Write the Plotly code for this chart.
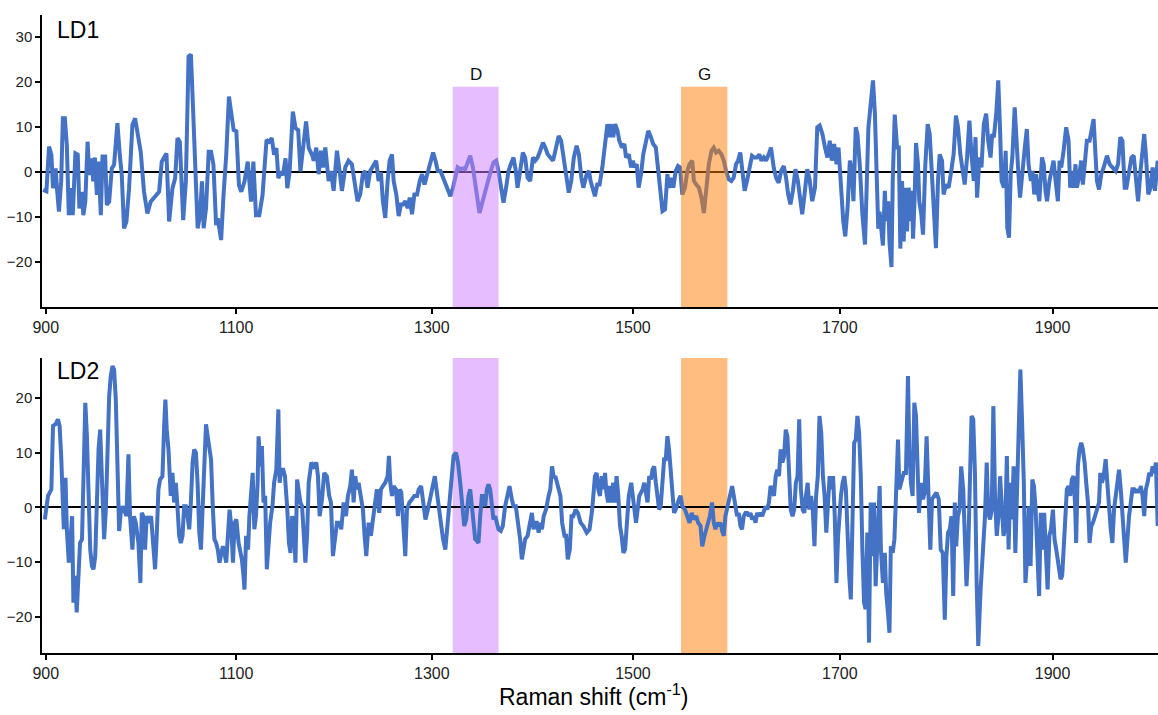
import plotly.graph_objects as go

# ---------------- data (Raman shift in cm-1, LD loadings) ----------------
ld1_x = [
    897.2, 900.7, 903.5, 906.0, 907.7, 910.5, 911.9, 914.0, 916.4, 918.2,
    920.3, 922.4, 924.5, 926.6, 928.7, 931.5, 934.0, 935.7, 938.5, 939.9,
    942.0, 944.4, 946.2, 948.6, 950.4, 952.1, 954.2, 956.0, 958.4, 960.2,
    963.0, 964.7, 967.2, 970.0, 972.4, 975.9, 978.4, 980.5, 982.9, 985.4,
    988.2, 991.7, 994.5, 996.9, 1000.4, 1003.9, 1007.4, 1010.9, 1015.5, 1019.7,
    1022.5, 1024.9, 1027.4, 1030.2, 1033.7, 1036.5, 1038.9, 1041.4, 1044.9, 1047.7,
    1050.5, 1053.0, 1055.4, 1057.5, 1060.0, 1062.4, 1064.5, 1066.2, 1068.7, 1071.5,
    1073.9, 1076.4, 1079.2, 1080.9, 1084.4, 1086.9, 1089.7, 1092.5, 1094.6, 1097.4,
    1100.2, 1102.9, 1105.3, 1108.7, 1112.0, 1113.7, 1115.4, 1117.8, 1120.5, 1123.9,
    1127.3, 1131.4, 1134.1, 1136.8, 1139.2, 1141.6, 1143.6, 1146.0, 1148.3, 1151.0,
    1152.8, 1155.2, 1158.5, 1161.2, 1164.0, 1166.3, 1169.7, 1172.1, 1174.8, 1178.2,
    1179.9, 1182.6, 1185.0, 1187.4, 1189.4, 1191.8, 1195.2, 1197.6, 1200.3, 1203.7,
    1206.4, 1208.8, 1212.2, 1215.5, 1218.9, 1222.3, 1224.7, 1227.4, 1230.1, 1232.5,
    1234.9, 1237.6, 1241.0, 1243.7, 1246.1, 1248.5, 1250.5, 1252.9, 1255.3, 1257.3,
    1259.7, 1261.4, 1264.1, 1266.5, 1268.8, 1270.9, 1273.2, 1275.6, 1277.7, 1280.0,
    1282.4, 1285.1, 1287.8, 1290.2, 1292.6, 1295.3, 1298.6, 1301.3, 1303.7, 1306.0,
    1308.7, 1311.3, 1313.6, 1316.0, 1318.7, 1321.3, 1323.6, 1326.0, 1328.6, 1331.3,
    1333.6, 1335.9, 1338.6, 1341.3, 1343.6, 1345.9, 1347.9, 1350.2, 1353.6, 1356.9,
    1359.2, 1361.9, 1364.6, 1366.9, 1369.2, 1371.9, 1374.5, 1376.9, 1379.2, 1381.9,
    1384.2, 1385.9, 1388.5, 1391.2, 1393.5, 1395.9, 1398.5, 1401.2, 1403.5, 1405.9,
    1408.5, 1411.2, 1413.5, 1415.9, 1418.5, 1421.2, 1423.5, 1426.8, 1429.2, 1431.8,
    1434.5, 1436.8, 1439.2, 1441.8, 1444.5, 1446.8, 1449.2, 1451.2, 1454.5, 1456.8,
    1458.3, 1460.6, 1462.6, 1464.9, 1467.2, 1469.9, 1472.6, 1474.9, 1476.6, 1478.2,
    1480.6, 1482.6, 1484.9, 1486.6, 1489.2, 1491.6, 1493.2, 1495.9, 1498.2, 1499.9,
    1501.4, 1503.7, 1505.6, 1507.9, 1510.1, 1512.7, 1515.0, 1517.6, 1519.8, 1522.4,
    1525.0, 1527.2, 1528.9, 1531.4, 1533.7, 1535.3, 1537.6, 1539.5, 1541.8, 1544.0,
    1546.0, 1548.2, 1550.8, 1553.1, 1555.3, 1557.9, 1559.5, 1561.8, 1564.4, 1566.9,
    1569.2, 1571.4, 1574.0, 1576.6, 1578.8, 1581.1, 1583.6, 1586.2, 1588.5, 1590.7,
    1593.3, 1595.8, 1598.1, 1600.4, 1602.3, 1604.5, 1606.8, 1608.7, 1611.0, 1613.2,
    1615.8, 1618.1, 1620.6, 1622.9, 1624.8, 1627.1, 1629.3, 1631.9, 1634.1, 1636.7,
    1639.0, 1641.5, 1643.8, 1646.4, 1648.6, 1650.6, 1652.8, 1655.1, 1657.6, 1659.9,
    1661.8, 1664.1, 1666.3, 1668.9, 1671.1, 1673.7, 1676.3, 1678.5, 1680.8, 1683.4,
    1685.9, 1688.2, 1690.4, 1692.4, 1694.6, 1696.9, 1698.8, 1701.1, 1703.3, 1705.2,
    1707.4, 1709.6, 1711.4, 1713.0, 1715.2, 1716.8, 1719.0, 1721.5, 1724.0,
    1727.2, 1729.4, 1731.6, 1733.4, 1734.7, 1736.6, 1737.8, 1739.7, 1741.0, 1742.8,
    1744.1, 1746.0, 1747.2, 1749.1, 1750.3, 1752.2, 1754.4, 1756.0, 1757.5, 1759.1,
    1760.7, 1762.2, 1763.8, 1765.4, 1766.9, 1768.5, 1769.5, 1771.0, 1772.3, 1774.2,
    1775.4, 1777.3, 1778.9, 1781.1, 1783.3, 1785.2, 1787.4, 1788.9, 1791.1, 1793.0,
    1794.6, 1796.8, 1798.3, 1800.5, 1803.0, 1805.5, 1807.7, 1809.9, 1811.8, 1814.0,
    1816.2, 1818.1, 1820.3, 1822.5, 1824.4, 1826.6, 1828.2, 1829.7, 1831.9, 1833.8,
    1836.0, 1838.2, 1840.1, 1842.3, 1843.8, 1845.4, 1847.6, 1849.5, 1851.1, 1852.6,
    1854.8, 1856.4, 1857.9, 1859.5, 1861.1, 1862.6, 1864.8, 1866.4, 1868.3, 1869.8,
    1872.0, 1874.2, 1876.1, 1877.7, 1879.9, 1881.4, 1883.0, 1884.6, 1886.2, 1887.7,
    1890.2, 1891.8, 1893.4, 1894.9, 1897.1, 1898.7, 1900.9, 1902.8, 1904.9, 1906.5,
    1908.0, 1910.2, 1912.6, 1914.8, 1916.3, 1918.1, 1919.7, 1921.2, 1922.5, 1924.3,
    1926.5, 1928.0, 1929.6, 1931.7, 1934.2, 1936.3, 1937.9, 1939.8, 1941.0, 1942.9,
    1945.0, 1947.2, 1950.2, 1952.7, 1955.1, 1958.2, 1960.4, 1962.5, 1964.4, 1966.5,
    1968.1, 1970.5, 1972.7, 1974.8, 1976.7, 1978.8, 1981.0, 1982.8, 1984.4, 1985.9,
    1988.1, 1990.2, 1992.1, 1994.2, 1996.7,
]
ld1_y = [
    -4.0, -4.3, 5.6, 3.8, -3.6, 0.8, -3.6, -8.8, -2.1, 11.9,
    11.9, 6.0, -9.6, -3.6, -9.6, 4.1, 3.8, -8.1, -4.4, -9.6,
    -6.6, 6.7, -0.7, 3.0, -2.1, 3.2, -5.1, 2.3, -9.6, 3.4,
    3.4, -7.3, -6.6, 0.8, 1.6, 10.8, 3.8, -0.7, -12.5, -11.0,
    -3.6, 10.4, 11.9, 9.0, 4.5, -4.4, -9.2, -6.6, -5.5, -4.4,
    2.3, 3.0, 4.1, -11.0, -3.6, -1.4, 7.5, 6.7, -10.7, -2.1,
    25.6, 26.0, 14.1, -1.4, -12.5, -9.6, -2.1, -12.5, -8.1, 4.5,
    4.5, 1.6, -11.8, -10.3, -15.1, -5.1, 3.8, 16.7, 12.7, 9.3,
    9.0, -2.9, -4.4, -2.1, 2.3, -3.6, -6.6, 2.3, -9.6, -9.6,
    -5.1, 7.1, 6.7, 7.5, 3.8, 5.3, -1.4, 0.1, -0.7, 3.0,
    -3.6, 0.1, 13.4, 9.7, 9.3, 0.1, 6.0, 11.2, 5.3, 3.8,
    2.5, 5.4, -0.5, 4.7, 1.0, 5.4, -2.0, 0.2, -4.2, 4.7,
    0.2, -4.2, 1.0, 2.5, 1.7, -2.8, -6.5, -5.0, -0.5, 0.2,
    -3.5, 0.2, 1.7, 2.5, -2.0, -0.1, -6.5, -10.2, -2.0, 2.5,
    3.9, -2.0, -5.0, -9.8, -7.2, -7.2, -6.5, -8.0, -5.7, -9.4,
    -5.0, -5.0, -2.0, -0.5, -2.8, -0.5, 1.7, 4.3, 2.5, 0.2,
    0.2, -1.3, -2.8, -4.2, -5.4, -3.5, -1.3, 1.0, 0.6, 0.8,
    0.6, 2.1, 3.6, 1.0, -2.8, -5.7, -9.1, -7.2, -4.2, -2.0,
    0.2, 2.1, 2.5, 0.2, -2.8, -6.8, -3.5, 0.2, 1.7, 3.2,
    0.2, -3.5, 0.2, 4.3, 3.2, -1.3, -2.0, 3.2, 2.5, 3.2,
    4.7, 6.5, 5.4, 3.9, 3.2, 2.5, 4.7, 8.0, 6.9, 2.5,
    -2.0, -4.6, -2.0, 3.2, 5.8, 3.9, -1.3, -3.5, -0.5, 0.2,
    -2.0, -4.2, -5.4, -2.8, -2.8, 1.0, 5.4, 10.6, 7.7, 10.6,
    7.7, 10.6, 9.1, 6.9, 5.4, 6.2, 3.2, 3.9, 1.0, 2.5,
    1.0, 1.7, -3.5, -0.5, 3.9, 6.9, 9.1, 7.7, 6.2, 5.4,
    -0.5, -6.5, -8.7, -8.3, -0.5, -3.5, -1.3, -3.5, 0.2, 1.3,
    1.0, -5.0, -3.5, 0.2, 1.7, 2.5, -2.0, -2.8, -3.5, -5.7,
    -9.1, -4.2, 1.7, 4.7, 5.4, 4.3, 4.7, 3.9, 2.5, 0.2,
    -1.6, -2.0, -1.3, 1.7, 2.5, 4.3, -0.5, -4.2, -2.0, 0.2,
    3.6, 3.2, 3.2, 3.9, 2.5, 3.2, 2.5, 3.9, 5.4, 1.0,
    -1.3, -2.4, 0.2, 1.3, -1.3, -5.0, -7.2, -4.2, 0.6, -2.0,
    -5.7, -9.4, -5.0, 0.6, -1.6, -6.5, -3.5, 9.9, 10.3, 8.4,
    5.4, 3.2, 6.9, 2.5, 6.2, 1.7, 5.4, -3.5, -10.9, -14.3,
    -8.0, 2.5, 0.2, -6.5, 9.9, 8.4, 1.7, -9.4, -16.1,
    9.7, 15.8, 20.3, 12.9, 4.7, -12.6, -8.8, -13.3, -16.3, -4.2,
    -10.9, -6.5, -15.5, -21.1, -2.0, 12.7, 5.4, 5.4, -17.0, -2.0,
    -15.4, -3.5, -13.2, -3.5, -10.9, -4.2, -14.8, -5.7, 6.4, 1.7,
    -6.5, -9.4, -13.9, 1.7, 10.6, 8.4, -2.0, -9.4, -16.9, -2.0,
    3.9, 2.5, -5.0, -2.8, -3.5, 0.2, 3.9, 12.5, 9.9, 3.9,
    -0.5, -2.8, 3.2, 11.4, 3.9, -2.0, 7.7, -5.7, 3.2, 1.0,
    10.6, 12.9, 6.9, 3.2, 8.4, 7.7, 12.9, 20.3, 9.9, -2.0,
    -3.5, 4.7, -12.4, -14.6, -0.5, 3.2, 14.3, 5.4, -0.5, -5.7,
    1.0, 5.4, 9.5, 1.7, -2.0, 0.2, -5.0, -0.5, -4.2, -6.5,
    3.2, 1.7, -4.2, -6.5, -2.0, 0.2, 2.5, -2.0, -6.5, 2.5,
    1.0, 4.7, 9.9, 6.9, -3.5, 0.2, -3.5, 1.7, -3.5, -1.3,
    2.5, -2.8, 2.5, 6.9, 6.9, 9.1, 11.7, 3.2, -2.0, -3.9,
    -0.5, 1.0, 3.6, 1.7, 1.0, 0.2, 1.7, 7.7, 6.9, -3.5,
    -3.5, -0.5, 3.2, 3.6, -2.0, -6.5, 0.2, 5.4, 8.4, 3.9,
    -5.0, -3.5, 1.0, -4.2, 2.5,
]

ld2_x = [
    899.0, 900.7, 902.4, 904.2, 906.0, 907.7, 910.5, 912.9, 914.7, 916.4,
    918.2, 919.2, 921.0, 922.4, 924.5, 925.9, 928.0, 929.4, 931.1, 932.9,
    935.0, 936.4, 938.5, 940.2, 942.0, 943.7, 945.5, 947.2, 949.0, 950.7,
    952.5, 954.2, 956.0, 957.7, 959.5, 961.9, 963.7, 965.4, 967.2, 968.9,
    970.7, 972.4, 974.2, 975.9, 977.7, 979.4, 981.2, 982.9, 985.4, 987.5,
    989.2, 991.7, 993.4, 995.2, 998.0, 1000.1, 1001.5, 1003.2, 1005.0, 1006.7,
    1009.2, 1011.3, 1013.4, 1015.5, 1017.2, 1019.0, 1020.7, 1023.2, 1025.0, 1026.3,
    1027.7, 1029.5, 1031.9, 1033.7, 1035.4, 1037.2, 1038.9, 1040.7, 1042.4, 1044.2,
    1045.9, 1047.7, 1049.4, 1051.2, 1052.9, 1054.7, 1056.4, 1058.2, 1059.9, 1061.7,
    1063.4, 1065.2, 1066.9, 1068.7, 1070.4, 1072.2, 1073.9, 1075.7, 1077.4, 1079.2,
    1080.9, 1082.7, 1084.4, 1086.2, 1087.9, 1089.7, 1091.4, 1093.2, 1094.9, 1096.7,
    1098.4, 1100.2, 1102.5, 1104.2, 1105.9, 1107.6, 1108.6, 1110.3, 1112.3, 1113.7,
    1115.4, 1117.1, 1118.8, 1120.5, 1122.2, 1123.2, 1124.9, 1126.6, 1128.3, 1130.0,
    1131.7, 1133.4, 1135.1, 1137.5, 1139.2, 1141.5, 1143.6, 1144.9, 1146.6, 1148.7,
    1150.4, 1152.8, 1154.5, 1156.1, 1157.8, 1159.5, 1161.2, 1162.9, 1164.6, 1166.3,
    1168.0, 1169.7, 1171.4, 1173.1, 1174.8, 1177.5, 1179.9,
    1182.6, 1184.3, 1186.0, 1188.4, 1190.7, 1193.4, 1195.8, 1197.6, 1199.6, 1202.0,
    1203.7, 1206.1, 1208.1, 1210.5, 1212.9, 1214.9, 1217.3, 1219.0, 1220.7, 1222.4,
    1224.1, 1225.8, 1228.2, 1230.2, 1231.9, 1233.6, 1236.0, 1238.3, 1240.4, 1242.7,
    1244.4, 1246.8, 1248.5, 1250.5, 1252.9, 1255.3, 1256.6, 1258.0, 1259.7, 1261.4,
    1263.8, 1265.8, 1267.5, 1269.2, 1271.6, 1273.2, 1274.9, 1277.3, 1280.0, 1282.4,
    1285.1, 1286.8, 1289.2, 1291.2, 1293.6, 1296.0, 1298.6, 1301.3, 1303.0, 1304.7,
    1307.0, 1309.4, 1311.3, 1313.6, 1315.3, 1317.6, 1319.6, 1321.9, 1324.3, 1326.3,
    1328.6, 1330.9, 1332.6, 1334.6, 1336.9, 1338.6, 1340.3, 1341.9, 1343.6, 1345.3,
    1346.9, 1348.6, 1350.3, 1351.9, 1353.6, 1355.3, 1356.9, 1358.6, 1360.2, 1361.9,
    1363.6, 1365.2, 1366.9, 1369.2, 1371.2, 1373.5, 1375.9, 1377.9, 1380.2, 1381.9,
    1384.2, 1386.2, 1388.5, 1390.2, 1391.9, 1393.5, 1395.9, 1397.9, 1400.2, 1401.9,
    1403.5, 1405.2, 1406.9, 1408.5, 1410.2, 1411.9, 1414.2, 1416.8, 1418.5, 1420.2,
    1421.9, 1423.5, 1425.2, 1426.8, 1428.5, 1430.2, 1432.5, 1434.2, 1435.8, 1437.8,
    1439.5, 1441.2, 1443.5, 1445.8, 1448.5, 1451.2, 1454.5,
    1457.3, 1459.9, 1462.6, 1464.3, 1465.9, 1467.6, 1469.2, 1470.9, 1472.6, 1473.9,
    1475.6, 1477.3, 1478.9, 1480.6, 1482.3, 1483.9, 1485.6, 1487.3, 1488.9, 1490.6,
    1492.3, 1493.9, 1495.9, 1498.3, 1499.9, 1501.4, 1503.0, 1504.6, 1506.2, 1507.9,
    1509.5, 1511.1, 1512.7, 1514.3, 1515.9, 1517.6, 1519.2, 1520.8, 1522.4, 1524.0,
    1525.6, 1527.2, 1528.9, 1530.5, 1532.1, 1533.7, 1535.3, 1536.9, 1538.6, 1540.2,
    1541.8, 1543.4, 1545.0, 1546.6, 1548.2, 1550.8, 1553.1, 1555.3, 1557.3, 1559.5,
    1561.8, 1563.7, 1566.0, 1567.6, 1569.8, 1571.4, 1573.4, 1575.0, 1577.2, 1578.8,
    1580.5, 1582.1, 1583.7, 1585.3, 1586.9, 1588.5, 1590.1, 1591.7, 1593.3, 1595.0,
    1596.6, 1598.2, 1599.8, 1601.4, 1603.0, 1604.6, 1606.2, 1607.8, 1609.5, 1611.1,
    1612.7, 1614.3, 1615.9, 1617.6, 1619.2, 1620.8, 1622.4, 1624.0, 1625.6, 1627.3,
    1628.9, 1630.5, 1632.1, 1633.7, 1635.3, 1637.0, 1638.6, 1640.2, 1641.8, 1643.4,
    1645.1, 1646.7, 1648.3, 1649.9, 1651.5, 1653.1, 1654.8, 1656.4, 1658.0, 1659.6,
    1661.2, 1662.8, 1664.5, 1666.1, 1667.7, 1669.3, 1670.9, 1672.6, 1674.2, 1675.8,
    1677.4, 1679.0, 1680.6, 1682.3, 1683.9, 1685.5, 1687.1, 1688.7, 1690.3, 1692.0,
    1693.6, 1695.2, 1696.8, 1698.4, 1700.0, 1701.1, 1702.7, 1704.3, 1705.8, 1707.4,
    1709.0, 1710.5, 1712.1, 1713.7, 1715.2, 1716.8, 1718.4, 1720.0, 1721.5, 1723.1,
    1724.6, 1726.2, 1727.8, 1729.4, 1731.0, 1732.5, 1734.1, 1735.7, 1737.9, 1739.1,
    1741.0, 1742.8, 1744.1, 1746.0, 1747.2, 1748.5, 1750.3, 1751.9, 1753.5, 1755.3,
    1756.6, 1758.5, 1760.7, 1762.8, 1764.7, 1766.0, 1767.5, 1769.1, 1770.7, 1772.3,
    1773.8, 1775.1, 1777.0, 1778.9, 1780.4, 1782.3, 1784.2, 1785.8, 1787.4, 1789.6,
    1791.5, 1793.7, 1795.6, 1797.5, 1799.4, 1800.9, 1802.5, 1804.1, 1805.7, 1807.3,
    1808.8, 1810.1, 1811.7, 1813.2, 1814.8, 1816.7, 1818.3, 1819.8, 1821.4, 1823.0,
    1824.5, 1826.1, 1827.7, 1829.3, 1830.8, 1833.0, 1835.2, 1837.1, 1838.7, 1840.2,
    1841.8, 1843.4, 1844.9, 1846.5, 1848.1, 1849.7, 1851.2, 1852.8, 1854.4, 1856.0,
    1857.5, 1859.1, 1860.7, 1862.3, 1863.8, 1865.4, 1867.0, 1868.6, 1870.1, 1871.7,
    1873.3, 1874.8, 1876.4, 1878.0, 1879.6, 1881.2, 1882.7, 1884.3, 1885.9, 1887.5,
    1889.1, 1890.6, 1892.2, 1893.8, 1895.4, 1897.0, 1898.5, 1900.3, 1901.8, 1903.4,
    1905.5, 1907.4, 1908.9, 1910.4, 1911.9, 1913.2, 1914.7, 1916.3, 1917.8, 1919.4,
    1920.9, 1921.8, 1923.4, 1924.9, 1926.5, 1928.0, 1929.6, 1931.1, 1932.7, 1934.2,
    1935.8, 1937.3, 1938.8, 1941.0, 1942.9, 1944.1, 1945.6, 1947.2, 1949.0, 1950.6,
    1952.1, 1953.7, 1955.2, 1956.7, 1958.2, 1959.8, 1961.3, 1962.9, 1964.4, 1966.0,
    1967.5, 1969.0, 1970.5, 1972.1, 1973.6, 1975.2, 1976.7, 1978.2, 1979.8, 1981.3,
    1982.8, 1984.4, 1985.9, 1987.4, 1989.0, 1990.5, 1992.1, 1993.6, 1995.1, 1996.7,
]
ld2_y = [
    -2.2, 0.2, 2.1, 2.7, 3.3, 14.9, 15.2, 16.1, 14.9, 9.4,
    2.1, -4.0, 5.4, -4.0, -10.1, -6.5, -1.6, -17.4, -12.5, -19.2,
    -11.3, -6.5, -5.8, 7.5, 19.1, 13.0, -0.4, -7.7, -10.7, -11.3,
    -8.9, 1.5, 10.6, 14.2, 3.3, -5.8, -0.4, 9.4, 20.3, 24.0,
    25.8, 25.2, 19.7, 8.2, -4.3, -1.0, 0.2, -0.4, -1.6, 9.7,
    -1.6, -7.7, -1.6, -2.8, -6.5, -13.8, -1.0, -1.6, -7.7, -1.6,
    -2.8, -1.6, -7.7, -11.3, -5.2, 3.3, 5.1, 5.7, 14.9, 19.7,
    14.2, 10.6, 2.1, 6.3, 0.9, 4.5, 0.2, -5.2, -6.5, -5.2,
    0.2, 0.2, -1.6, -4.0, 0.9, 8.2, 10.6, 10.0, 4.5, -4.6,
    -7.7, 0.2, 5.7, 15.2, 13.0, 10.0, 8.8, 0.2, -5.8, -6.5,
    -7.7, -10.1, -8.3, -7.1, -8.3, -10.1, -5.2, -0.4, -3.4, -10.1,
    -2.8, -2.2, -6.5, -7.7, -9.5, -12.5, -15.0, -5.2, -7.7, -1.6,
    3.3, 6.3, -4.0, -1.6, 4.5, 13.0, 7.5, 11.2, 0.9, 2.1,
    -11.3, -6.5, -2.8, 0.2, 4.5, 6.9, 17.9, 4.5, 6.9, 6.9,
    5.7, -0.4, -6.5, -8.3, -1.6, -2.8, -10.1, 5.1, 3.3, 0.9,
    0.2, -5.8, -10.1, -5.2, 4.5, 8.2, 7.5,
    8.2, 5.7, -1.6, 1.5, 6.3, 5.7, 2.1, 0.9, -8.9, -5.2,
    -2.8, -2.8, -4.0, 0.9, -1.6, 2.1, 3.9, 6.9, 0.9, 5.7,
    3.3, 4.5, 2.1, -0.4, -5.2, -8.9, -2.8, -5.2, -2.2, 0.9,
    3.3, -1.0, 3.3, 3.9, 4.5, 5.7, 9.4, 4.5, 2.1, 3.9,
    3.3, -1.6, 3.3, 2.7, -5.2, -8.9, -0.4, 0.9, 1.5, 2.1,
    2.1, 3.3, 3.9, 0.9, -2.2, -0.4, 2.1, 4.5, 5.7, 3.3,
    -0.4, -3.4, -5.8, -7.7, -4.0, 0.9, 5.7, 9.4, 10.0, 8.2,
    4.5, 0.2, -3.4, -2.2, 2.1, 3.3, -0.4, -2.8, -5.8, -6.1,
    -6.5, -1.6, 2.1, 2.1, 0.2, 3.3, 4.2, 3.3, 0.9, -2.2,
    -1.6, -2.8, -4.0, -4.3, -3.4, 0.2, 2.1, 3.9, 1.5, 0.2,
    0.2, -2.2, -5.8, -9.5, -7.7, -5.8, -5.2, -3.4, -1.0, -4.0,
    -2.8, -2.8, -4.6, -2.8, -4.0, -1.6, -0.4, 2.1, 3.3, 7.5,
    5.4, 5.7, 4.5, 3.3, 2.1, -2.8, -5.2, -5.2, -9.5, -7.7,
    -1.6, -1.6, -0.4, -1.0, -2.8, -3.4, -4.6,
    -4.0, -0.4, 5.7, 6.3, 3.3, 2.1, 5.7, 3.3, 6.3, 2.7,
    0.9, 3.9, 0.9, 4.5, 0.9, 5.7, 2.1, -3.4, -5.2, -8.3,
    -7.7, -4.0, 2.1, 4.5, 2.1, -0.4, -2.8, -0.4, 2.1, 2.7,
    3.3, 4.5, 2.1, 0.9, 5.7, 5.1, 6.9, 7.5, 4.5, 2.1,
    -0.4, 0.2, 4.5, 8.8, 8.8, 13.0, 10.6, 6.9, 2.7, -1.0,
    -0.4, 0.9, 1.5, 2.1, 0.2, -0.4, -1.6, -2.8, -1.0, -2.2,
    -1.6, -2.8, -3.4, -7.1, -5.2, -4.0, -2.8, -1.6, 0.9, -2.8,
    -4.0, -2.8, -3.4, -2.8, -4.3, -5.2, -1.6, -0.4, 0.9, 2.7,
    3.9, 2.1, -0.4, -1.6, -1.0, -3.4, -4.0, -1.6, -1.0, -1.0,
    -1.6, -1.0, -2.2, -1.6, -2.8, -1.0, -1.6, -1.0, -1.6, -0.4,
    0.2, -0.4, 0.9, 3.9, 3.3, 2.1, 5.7, 6.9, 5.7, 10.6,
    8.2, 9.4, 14.2, 13.0, 5.7, -0.4, -1.6, -0.4, 4.5, 5.7,
    16.1, 3.3, -0.4, -1.0, 2.1, 4.5, -0.4, 2.1, -0.4, -7.1,
    2.1, 5.7, 16.7, 13.6, 5.7, 2.1, -4.6, 0.9, 5.7, 3.3,
    5.7, -1.6, -13.8, -5.2, 0.9, 2.1, 4.5, 5.7, 3.3, -7.7,
    -12.5, -16.8, -4.0, 11.8, 12.4, 16.7, 13.6, 5.7, -7.7, -17.4,
    -18.6, -4.6, -24.7, 0.9, -8.9, 0.9, -14.4, -7.7, 3.9, -7.7,
    -13.8, -8.3, -15.6, -19.8, -22.9, -7.1, -8.3, -5.8, 5.7, 12.4,
    3.3, 4.5, 6.3, 6.3, 24.0, 10.6, 4.5, 2.1, 19.1, 16.7,
    8.2, -1.0, 4.5, 1.5, 2.7, 13.0, 1.5, -7.7, 1.5, 2.1,
    2.7, 1.5, -7.7, -8.3, -20.5, -8.9, -4.6, -4.0, -1.6, -16.2,
    0.9, -7.1, -1.6, -0.4, 7.5, 3.3, -5.8, -14.4, -7.7, 4.5,
    16.7, 16.1, 6.3, -13.8, -25.3, -15.0, -7.7, -1.6, 8.2, -1.0,
    -2.2, -0.4, 18.5, 1.5, -5.2, -1.6, 5.7, -0.4, -5.2, -3.4,
    9.4, -7.7, 4.5, -2.2, 7.5, -8.3, 5.7, 13.6, 25.2, 15.5,
    4.5, -13.8, -8.9, 0.2, -10.7, 5.1, 3.9, -0.4, -8.9, -16.2,
    -1.0, -7.7, -1.0, -7.7, -15.0, -5.2, -4.0, -0.4, -5.8, -7.7,
    -10.1, -13.1, -12.5, -5.2, -1.6, 3.3, 3.9, 2.1, 5.1, 5.7,
    0.2, -6.5, 7.5, 10.6, 11.8, 10.6, 8.2, 4.5, 0.9, -6.5,
    -3.4, -2.8, -1.6, -0.4, 0.9, 6.3, 4.5, 5.7, 8.8, 3.3,
    0.2, -4.0, -6.5, -0.4, 2.1, 3.3, 6.9, 3.3, -2.8, -5.8,
    -10.1, -5.2, -1.6, 0.9, 3.3, 3.3, 2.7, 3.3, 2.7, 3.9,
    2.1, -1.6, 3.3, 4.5, 6.3, 5.7, 7.5, 6.3, 8.2, -3.4,
]

x_ticks = [900, 1100, 1300, 1500, 1700, 1900]
x_tick_labels = ["900", "1100", "1300", "1500", "1700", "1900"]
x_limits = [896, 1997]

band_labels = ["D", "G"]
band_ranges = [[1321, 1367], [1547, 1592]]
band_colors = ["rgba(205,125,255,0.5)", "rgba(255,125,0,0.5)"]

ld1_range = [-30.0, 34.8]
ld1_ticks = [-20, -10, 0, 10, 20, 30]
ld2_range = [-26.6, 27.3]
ld2_ticks = [-20, -10, 0, 10, 20]

# The reference's Raman-shift axis is not evenly spaced: the labels sit on a
# linear scattered-wavelength scale (He-Ne 632.8 nm excitation).
LASER_WAVENUMBER = 1e7 / 632.8


def to_axis(shift):
    return 1e7 / (LASER_WAVENUMBER - shift)


LINE_COLOR = "#4472C4"
FONT = "Arial, Liberation Sans, Helvetica, sans-serif"

fig = go.Figure()
fig.add_trace(go.Scatter(x=[to_axis(v) for v in ld1_x], y=ld1_y, mode="lines",
                         line=dict(color=LINE_COLOR, width=4),
                         xaxis="x", yaxis="y", showlegend=False))
fig.add_trace(go.Scatter(x=[to_axis(v) for v in ld2_x], y=ld2_y, mode="lines",
                         line=dict(color=LINE_COLOR, width=4),
                         xaxis="x2", yaxis="y2", showlegend=False))

shapes = []
annotations = []
for lab, (a, b), col in zip(band_labels, band_ranges, band_colors):
    shapes.append(dict(type="rect", xref="x", yref="y", x0=to_axis(a), x1=to_axis(b),
                       y0=ld1_range[0], y1=18.9, fillcolor=col, line=dict(width=0),
                       layer="above"))
    shapes.append(dict(type="rect", xref="x2", yref="y2 domain", x0=to_axis(a), x1=to_axis(b),
                       y0=0, y1=1, fillcolor=col, line=dict(width=0), layer="below"))
    annotations.append(dict(text=lab, x=to_axis((a + b) / 2), y=21.6, xref="x", yref="y",
                            showarrow=False, font=dict(size=17, color="#111", family=FONT),
                            xanchor="center", yanchor="middle"))

annotations += [
    dict(text="LD1", x=0.0116, y=0.9765, xref="paper", yref="paper", showarrow=False,
         xanchor="left", yanchor="middle", font=dict(size=23, color="#000", family=FONT)),
    dict(text="LD2", x=0.0116, y=0.442, xref="paper", yref="paper", showarrow=False,
         xanchor="left", yanchor="middle", font=dict(size=23, color="#000", family=FONT)),
    dict(text="Raman shift (cm<sup>-1</sup>)", x=0.4946, y=-0.066, xref="paper", yref="paper",
         showarrow=False, xanchor="center", yanchor="middle",
         font=dict(size=23, color="#000", family=FONT)),
]

xaxis_common = dict(
    range=[to_axis(x_limits[0]), to_axis(x_limits[1])],
    tickvals=[to_axis(t) for t in x_ticks], ticktext=x_tick_labels,
    showline=True, linecolor="black", linewidth=1.5, ticks="outside", ticklen=5,
    tickwidth=1.5, tickcolor="black", showgrid=False, zeroline=False,
    tickfont=dict(size=16, color="#222", family=FONT),
)
yaxis_common = dict(
    showline=True, linecolor="black", linewidth=1.5, ticks="outside", ticklen=5,
    tickwidth=1.5, tickcolor="black", showgrid=False, zeroline=True,
    zerolinecolor="black", zerolinewidth=1.5,
    tickfont=dict(size=15, color="#222", family=FONT),
)

fig.update_layout(
    width=1158, height=715,
    margin=dict(l=42, r=0, t=15, b=62),
    paper_bgcolor="white", plot_bgcolor="white",
    font=dict(family=FONT),
    xaxis=dict(domain=[0, 1], anchor="y", **xaxis_common),
    xaxis2=dict(domain=[0, 1], anchor="y2", **xaxis_common),
    yaxis=dict(domain=[0.542, 1], anchor="x", range=ld1_range, tickvals=ld1_ticks, **yaxis_common),
    yaxis2=dict(domain=[0, 0.4624], anchor="x2", range=ld2_range, tickvals=ld2_ticks, **yaxis_common),
    shapes=shapes,
    annotations=annotations,
)

# remove the browser's default page margin so the figure sits at the window origin
fig.write_html("out.html",
               config={"displayModeBar": False},
               post_script="document.body.style.margin='0px';document.body.style.overflow='hidden';")
